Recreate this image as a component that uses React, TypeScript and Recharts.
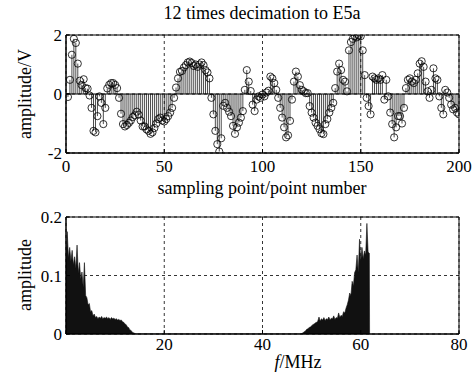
import React from 'react';
import {
  ComposedChart,
  AreaChart,
  Area,
  Scatter,
  XAxis,
  YAxis,
  CartesianGrid,
  ReferenceLine,
  ReferenceArea,
} from 'recharts';

// ---------- top panel: decimated samples (index 1..200) ----------
const sampleValues = [
  -0.1, 0.48, 1.33, 1.87, 1.73, 1.03, 0.45, 0.3, 0.5, 0.2,
  0.18, -0.05, -0.47, -1.25, -1.3, -0.75, -0.08, -0.3, -1.02, -0.47,
  0.19, 0.31, 0.37, 0.37, 0.31, 0.2, -0.13, -0.67, -1.02, -1.1,
  -1.05, -0.98, -0.9, -0.78, -0.72, -0.6, -0.7, -0.9, -1.1, -1.1,
  -1.2, -1.25, -1.35, -1.3, -1.15, -1.0, -0.85, -0.8, -0.9, -0.93,
  -0.85, -0.75, -0.63, -0.47, -0.13, 0.22, 0.53, 0.75, 0.78, 0.9,
  0.98, 1.07, 1.1, 1.05, 0.95, 1.0, 0.92, 1.0, 1.07, 0.98,
  0.81, 0.73, 0.53, -0.13, -0.69, -1.25, -1.7, -1.95, -1.5, -0.4,
  -0.3, -0.47, -0.6, -0.75, -1.08, -1.35, -1.13, -0.97, -0.8, -0.58,
  0.14, 0.81, 0.42, 0.1, -0.36, -0.58, -0.19, -0.08, -0.13, -0.02,
  -0.08, 0.05, 0.11, 0.59, 0.53, 0.37, 0.14, -0.13, -0.47, -0.8,
  -1.13, -1.47, -1.4, -0.91, -0.19, 0.42, 0.76, 0.59, 0.3, 0.14,
  0.09, 0.03, 0.03, -0.41, -0.63, -0.8, -0.97, -1.08, -1.19, -1.33,
  -1.36, -1.02, -0.85, -0.63, -0.47, -0.3, 0.2, 0.76, 1.03, 0.81,
  0.48, 0.42, 0.09, 1.48, 1.76, 1.87, 1.96, 1.92, 1.98, 1.96,
  1.48, 0.64, -0.13, -0.41, -0.69, 0.59, 0.53, 0.48, 0.53, 0.48,
  0.64, -0.19, 0.48, -0.08, -0.63, -1.02, -1.47, -1.13, -0.75, -0.75,
  -1.0, -0.47, 0.2, 0.48, 0.53, 0.42, 0.37, 0.48, 0.7, 1.03,
  1.11, 0.92, 0.42, 0.09, -0.13, 0.14, 0.87, 0.53, 0.48, -0.08,
  -0.47, -0.69, 0.14, 0.05, -0.13, -0.36, -0.52, -0.47, -0.63, -0.69,
];
const sampleXTicks = [0, 50, 100, 150, 200];
const sampleYTicks = [-2, 0, 2];

// ---------- bottom panel: spectrum ----------
const spectrumFreq = [
  0, 0.25, 0.5, 0.75, 1, 1.25, 1.5, 1.75, 2, 2.25,
  2.5, 2.75, 3, 3.25, 3.5, 3.75, 4, 4.25, 4.5, 4.75,
  5, 5.25, 5.5, 5.75, 6, 6.25, 6.5, 6.75, 7, 7.25,
  7.5, 7.75, 8, 8.25, 8.5, 8.75, 9, 9.25, 9.5, 9.75,
  10, 10.25, 10.5, 10.75, 11, 11.25, 11.5, 11.75, 12, 12.25,
  12.5, 12.75, 13, 13.25, 13.5, 13.75, 14, 14.25,
  47.75, 48, 48.25, 48.5, 48.75, 49, 49.25, 49.5, 49.75, 50,
  50.25, 50.5, 50.75, 51, 51.25, 51.5, 51.75, 52, 52.25, 52.5,
  52.75, 53, 53.25, 53.5, 53.75, 54, 54.25, 54.5, 54.75, 55,
  55.25, 55.5, 55.75, 56, 56.25, 56.5, 56.75, 57, 57.25, 57.5,
  57.75, 58, 58.25, 58.5, 58.75, 59, 59.25, 59.5, 59.75, 60,
  60.25, 60.5, 60.75, 61, 61.25, 61.5, 61.75, 61.8,
];
const spectrumAmp = [
  0.125, 0.175, 0.13, 0.148, 0.125, 0.143, 0.118, 0.132, 0.112, 0.152,
  0.104, 0.122, 0.094, 0.106, 0.08, 0.122, 0.066, 0.062, 0.05, 0.052,
  0.038, 0.04, 0.031, 0.034, 0.028, 0.03, 0.026, 0.029, 0.027, 0.03,
  0.026, 0.028, 0.027, 0.029, 0.026, 0.028, 0.025, 0.028, 0.026, 0.027,
  0.025, 0.026, 0.024, 0.025, 0.023, 0.024, 0.021, 0.02, 0.017, 0.016,
  0.012, 0.011, 0.007, 0.006, 0.003, 0.002, 0.001, 0,
  0, 0.001, 0.002, 0.004, 0.005, 0.008, 0.009, 0.011, 0.012, 0.014,
  0.016, 0.017, 0.019, 0.02, 0.022, 0.029, 0.022, 0.026, 0.024, 0.028,
  0.023, 0.026, 0.025, 0.029, 0.024, 0.027, 0.026, 0.031, 0.025, 0.028,
  0.027, 0.036, 0.028, 0.032, 0.03, 0.038, 0.036, 0.044, 0.05, 0.058,
  0.07, 0.066, 0.09, 0.082, 0.105, 0.11, 0.135, 0.105, 0.162, 0.125,
  0.148, 0.128, 0.142, 0.135, 0.189, 0.14, 0.138, 0,
];
const freqTicks = [0, 20, 40, 60, 80];
const ampTicks = [0, 0.1, 0.2];

const stemData = sampleValues.map((v, i) => ({ n: i + 1, v }));
const specData = spectrumFreq.map((f, i) => ({ f, a: spectrumAmp[i] }));

const FONT = '"Liberation Serif", "Times New Roman", serif';
const tickStyle = { fontFamily: FONT, fontSize: 17, fill: '#000' };

const Circle = (props: any) => {
  const { cx, cy } = props;
  if (cx == null || cy == null) return null;
  return <circle cx={cx} cy={cy} r={3.6} fill="none" stroke="#000" strokeWidth={0.8} />;
};

export default function App() {
  return (
    <div
      style={{
        position: 'absolute',
        left: 0,
        top: 0,
        width: 476,
        height: 380,
        background: '#fff',
        fontFamily: FONT,
      }}
    >
      <style>{`.recharts-text, .recharts-cartesian-axis-tick-value, svg text { font-family: "Liberation Serif", "Times New Roman", serif !important; }`}</style>
      <div style={{ position: 'absolute', left: 0, top: 0 }}>
        <ComposedChart
          width={476}
          height={200}
          data={stemData}
          margin={{ top: 35, right: 17, bottom: 0, left: 0 }}
          style={{ fontFamily: FONT }}
        >
          <CartesianGrid stroke="#000" strokeDasharray="3 3" strokeWidth={0.8} />
          <XAxis
            dataKey="n"
            type="number"
            domain={[0, 200]}
            ticks={sampleXTicks}
            height={47}
            tickSize={-4}
            tickMargin={11}
            stroke="#000"
            tick={tickStyle}
            allowDataOverflow
          />
          <YAxis
            type="number"
            domain={[-2, 2]}
            ticks={sampleYTicks}
            width={66}
            tickSize={-4}
            tickMargin={8}
            stroke="#000"
            tick={tickStyle}
            allowDataOverflow
          />
          <ReferenceArea x1={0} x2={200} y1={-2} y2={2} fill="none" stroke="#000" strokeWidth={1} ifOverflow="visible" />
          {stemData.map((d) => (
            <ReferenceLine
              key={d.n}
              segment={[
                { x: d.n, y: 0 },
                { x: d.n, y: d.v },
              ]}
              stroke="#000"
              strokeWidth={0.7}
              ifOverflow="visible"
            />
          ))}
          <ReferenceLine y={0} stroke="#000" strokeWidth={1} />
          <Scatter dataKey="v" shape={<Circle />} isAnimationActive={false} />
        </ComposedChart>
      </div>

      <div style={{ position: 'absolute', left: 0, top: 200 }}>
        <AreaChart
          width={476}
          height={180}
          data={specData}
          margin={{ top: 17, right: 17, bottom: 0, left: 0 }}
          style={{ fontFamily: FONT }}
        >
          <CartesianGrid stroke="#000" strokeDasharray="3 3" strokeWidth={0.8} />
          <XAxis
            dataKey="f"
            type="number"
            domain={[0, 80]}
            ticks={freqTicks}
            tickFormatter={(v: number) => (v === 0 ? '' : String(v))}
            height={46}
            tickSize={-4}
            tickMargin={8}
            stroke="#000"
            tick={tickStyle}
            allowDataOverflow
          />
          <YAxis
            type="number"
            domain={[0, 0.2]}
            ticks={ampTicks}
            width={66}
            tickSize={-4}
            tickMargin={8}
            stroke="#000"
            tick={tickStyle}
            allowDataOverflow
          />
          <Area
            dataKey="a"
            type="linear"
            fill="#111"
            fillOpacity={1}
            stroke="#111"
            strokeWidth={0.6}
            isAnimationActive={false}
            baseValue={0}
          />
          <ReferenceArea x1={0} x2={80} y1={0} y2={0.2} fill="none" stroke="#000" strokeWidth={1} ifOverflow="visible" />
        </AreaChart>
      </div>

      <svg
        width={476}
        height={380}
        style={{ position: 'absolute', left: 0, top: 0, pointerEvents: 'none' }}
      >
        <text x={262} y={19} textAnchor="middle" fontFamily={FONT} fontSize={18} fill="#000">
          12 times decimation to E5a
        </text>
        <text x={262} y={194} textAnchor="middle" fontFamily={FONT} fontSize={18} fill="#000">
          sampling point/point number
        </text>
        <text
          x={0}
          y={0}
          transform="translate(31,94) rotate(-90)"
          textAnchor="middle"
          fontFamily={FONT}
          fontSize={18}
          fill="#000"
        >
          amplitude/V
        </text>
        <text
          x={0}
          y={0}
          transform="translate(31,275) rotate(-90)"
          textAnchor="middle"
          fontFamily={FONT}
          fontSize={18}
          fill="#000"
        >
          amplitude
        </text>
        <text x={298} y={368} textAnchor="middle" fontFamily={FONT} fontSize={18} fill="#000">
          <tspan fontStyle="italic">f</tspan>/MHz
        </text>
      </svg>
    </div>
  );
}
